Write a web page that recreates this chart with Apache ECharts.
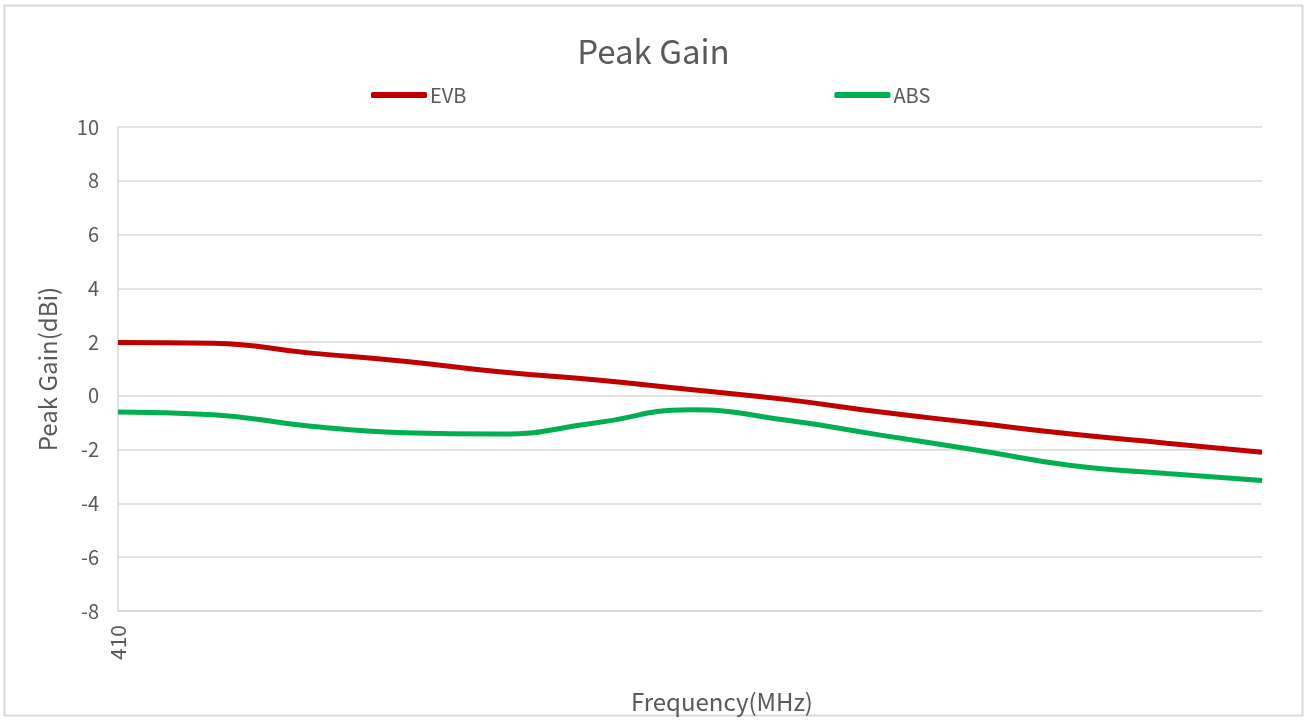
<!DOCTYPE html>
<html>
<head>
<meta charset="utf-8">
<script src="https://cdn.jsdelivr.net/npm/echarts@6/dist/echarts.min.js"></script>
<style>
  html, body { margin: 0; padding: 0; background: #fff; overflow: hidden; }
  #chart { width: 1307px; height: 720px; }
</style>
</head>
<body>
<div id="chart"></div>
<script>
// frequency points (MHz), only the first one is labelled in the original
const freqs = ['410', '415', '420', '425', '430', '435', '440', '445', '450', '455', '460', '465', '470']
const evb = [1.99, 1.96, 1.60, 1.29, 0.90, 0.60, 0.24, -0.13, -0.60, -1.01, -1.42, -1.76, -2.10]
const abs = [-0.60, -0.70, -1.12, -1.37, -1.42, -1.01, -0.52, -0.90, -1.46, -2.01, -2.59, -2.89, -3.15]
const yTicks = { min: -8, max: 10, interval: 2 }

const textColor = '#595959'
const gridColor = '#D9D9D9'
const font = '"Noto Sans CJK SC", "Noto Sans", sans-serif'

const chart = echarts.init(document.getElementById('chart'))
chart.setOption({
  backgroundColor: '#fff',
  textStyle: { fontFamily: font },
  graphic: [{
    type: 'rect',
    shape: { x: 4.5, y: 5.5, width: 1298, height: 710 },
    style: { fill: 'none', stroke: gridColor, lineWidth: 2 },
    silent: true
  }],
  title: {
    text: 'Peak Gain',
    left: 'center',
    top: 30,
    textStyle: { color: textColor, fontSize: 33, fontWeight: 'normal', fontFamily: font }
  },
  legend: {
    data: ['EVB', 'ABS'],
    left: 366,
    top: 80,
    icon: 'roundRect',
    itemWidth: 56,
    itemHeight: 6,
    itemGap: 368,
    textStyle: { color: textColor, fontSize: 20, padding: [0, 0, 0, -2] }
  },
  grid: {
    left: 118,
    right: 45,
    top: 127,
    bottom: 109,
    containLabel: false
  },
  xAxis: {
    type: 'category',
    data: freqs,
    boundaryGap: false,
    name: 'Frequency(MHz)',
    nameLocation: 'middle',
    nameGap: 79,
    nameTextStyle: { color: textColor, fontSize: 24, padding: [0, 0, 0, 64] },
    axisLine: { show: true, onZero: false, lineStyle: { color: gridColor, width: 1.5 } },
    axisTick: { show: false },
    axisLabel: {
      color: textColor,
      fontSize: 21,
      rotate: 90,
      margin: 14,
      interval: (idx) => idx === 0
    },
    splitLine: { show: false }
  },
  yAxis: {
    type: 'value',
    min: yTicks.min,
    max: yTicks.max,
    interval: yTicks.interval,
    name: 'Peak Gain(dBi)',
    nameLocation: 'middle',
    nameGap: 58,
    nameTextStyle: { color: textColor, fontSize: 24 },
    axisLine: { show: true, lineStyle: { color: gridColor, width: 1.5 } },
    axisTick: { show: false },
    axisLabel: { color: textColor, fontSize: 20, margin: 19 },
    splitLine: { show: true, lineStyle: { color: gridColor, width: 1.5 } }
  },
  series: [
    {
      name: 'EVB',
      type: 'line',
      data: evb,
      smooth: 0.5,
      symbol: 'none',
      lineStyle: { color: '#C00000', width: 5 },
      itemStyle: { color: '#C00000' }
    },
    {
      name: 'ABS',
      type: 'line',
      data: abs,
      smooth: 0.5,
      symbol: 'none',
      lineStyle: { color: '#00B050', width: 5 },
      itemStyle: { color: '#00B050' }
    }
  ]
})
</script>
</body>
</html>
